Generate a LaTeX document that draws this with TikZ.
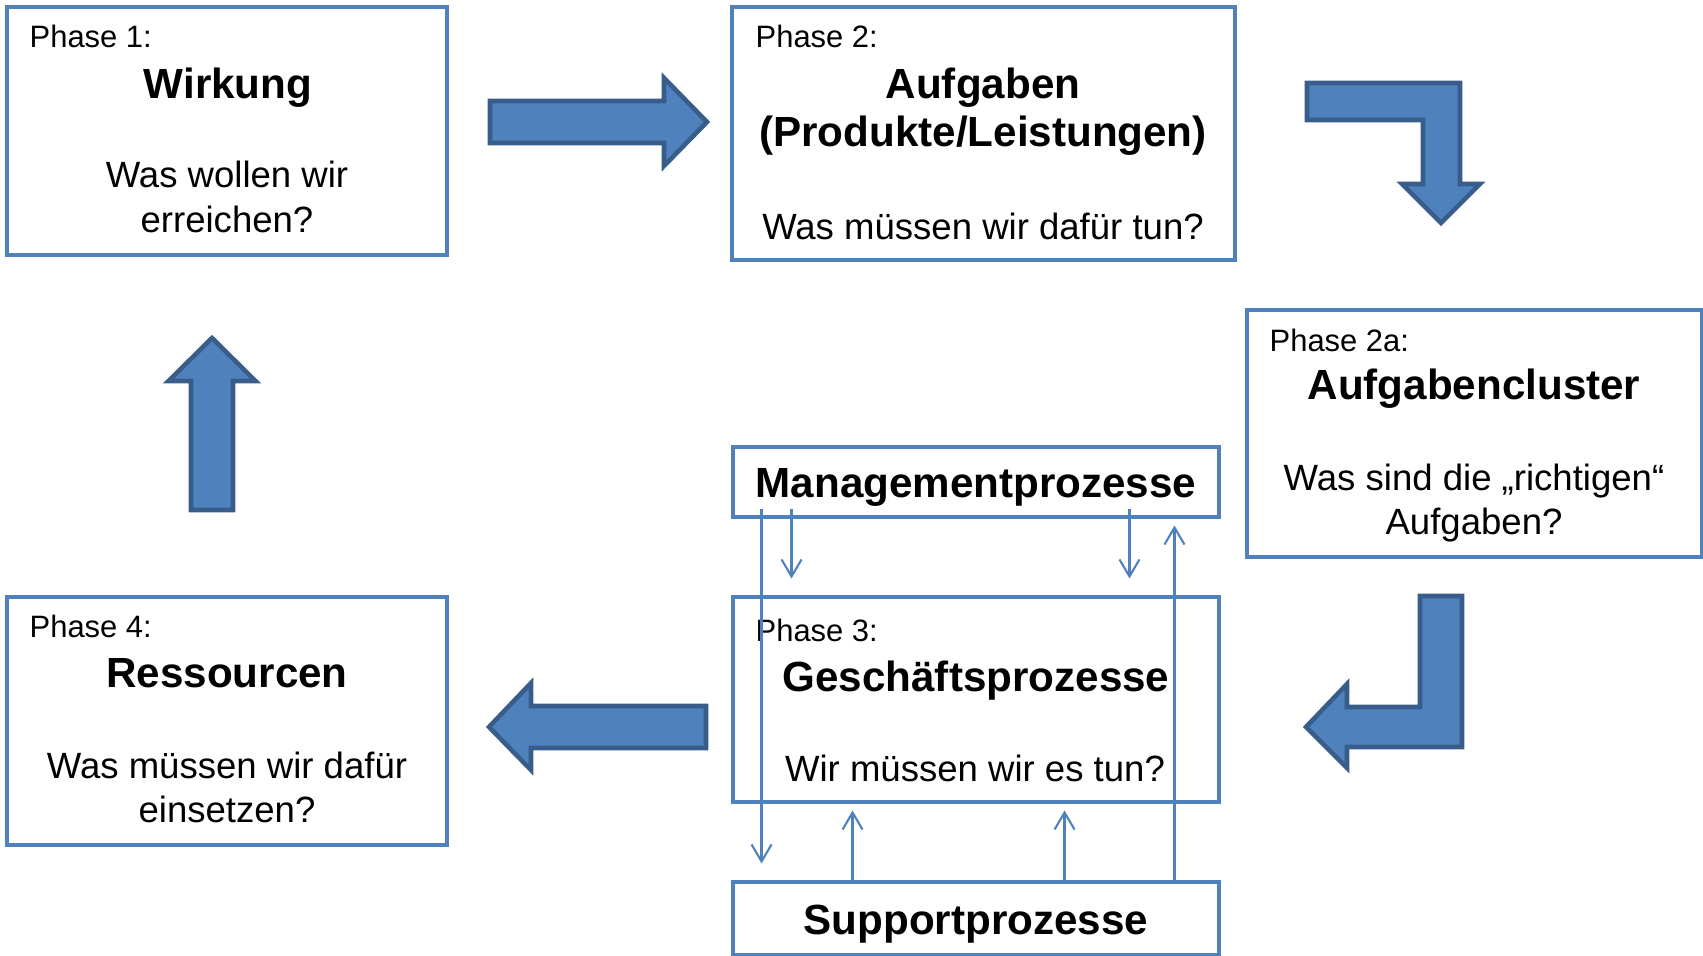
\documentclass[tikz,border=0pt]{standalone}
\usepackage{fontspec}
\setmainfont{Liberation Sans}
\definecolor{boxblue}{RGB}{79, 129, 189}
\definecolor{edgeblue}{RGB}{56, 93, 138}
\usetikzlibrary{arrows.meta, positioning, calc}

\begin{document}
\begin{tikzpicture}[
  pbox/.style={draw=boxblue, line width=1.4pt, fill=white, inner sep=0pt},
  phase/.style={anchor=base west, inner sep=0pt, font=\fontsize{8.8}{10.5}\selectfont},
  title/.style={anchor=base, inner sep=0pt, align=center, font=\fontsize{12}{13.9}\selectfont\bfseries},
  quest/.style={anchor=base, inner sep=0pt, align=center, font=\fontsize{10.4}{12.8}\selectfont},
  flow/.style={draw=boxblue, line width=0.6pt, -{Straight Barb[length=1.7mm, width=2mm]}},
  barrow/.style={fill=boxblue, draw=edgeblue, line width=1.3pt, line join=miter}
]
  \useasboundingbox (0,0) rectangle (17.03,9.56);

  \node[pbox, minimum width=4.40cm, minimum height=2.48cm] (p1) at (2.27, 8.25) {};
  \node[pbox, minimum width=5.03cm, minimum height=2.53cm] (p2) at (9.835, 8.225) {};
  \node[pbox, minimum width=4.55cm, minimum height=2.47cm] (p2a) at (14.745, 5.225) {};
  \node[pbox, minimum width=4.40cm, minimum height=2.48cm] (p4) at (2.27, 2.35) {};
  \node[pbox, minimum width=4.86cm, minimum height=0.70cm] (mgmt) at (9.76, 4.74) {};
  \node[pbox, minimum width=4.86cm, minimum height=2.05cm] (p3) at (9.76, 2.565) {};
  \node[pbox, minimum width=4.86cm, minimum height=0.73cm] (supp) at (9.76, 0.375) {};

  \node[phase] (p1l) at (0.29, 9.08) {Phase 1:};
  \node[title] (p1t) at (2.28, 8.57) {Wirkung};
  \node[quest] (p1q) at (2.27, 7.23) {Was wollen wir\\erreichen?};

  \node[phase] (p2l) at (7.55, 9.08) {Phase 2:};
  \node[title] (p2t) at (9.83, 8.09) {Aufgaben\\(Produkte/Leistungen)};
  \node[quest] (p2q) at (9.83, 7.16) {Was müssen wir dafür tun?};

  \node[phase] (p2al) at (12.69, 6.04) {Phase 2a:};
  \node[title] (p2at) at (14.74, 5.56) {Aufgabencluster};
  \node[quest] (p2aq) at (14.74, 4.21) {Was sind die „richtigen“\\Aufgaben?};

  \node[title] (mgmtt) at (9.76, 4.58) {Managementprozesse};

  \node[phase] (p3l) at (7.55, 3.14) {Phase 3:};
  \node[title] (p3t) at (9.76, 2.64) {Geschäftsprozesse};
  \node[quest] (p3q) at (9.75, 1.74) {Wir müssen wir es tun?};

  \node[title] (suppt) at (9.76, 0.21) {Supportprozesse};

  \node[phase] (p4l) at (0.29, 3.18) {Phase 4:};
  \node[title] (p4t) at (2.27, 2.68) {Ressourcen};
  \node[quest] (p4q) at (2.27, 1.33) {Was müssen wir dafür\\einsetzen?};

  \draw[flow] ($(mgmt.south west)+(0.31,0.10)$) -- ($(supp.north west)+(0.31,0.16)$);
  \draw[flow] ($(mgmt.south west)+(0.61,0.10)$) -- ($(p3.north west)+(0.61,0.16)$);
  \draw[flow] ($(mgmt.south east)+(-0.92,0.10)$) -- ($(p3.north east)+(-0.92,0.16)$);
  \draw[flow] ($(supp.north east)+(-0.47,0)$) -- ($(mgmt.south east)+(-0.47,-0.06)$);
  \draw[flow] ($(supp.north west)+(1.22,0)$) -- ($(p3.south west)+(1.22,-0.06)$);
  \draw[flow] ($(supp.north west)+(3.34,0)$) -- ($(p3.south west)+(3.34,-0.06)$);

  \draw[barrow] (4.90,8.55) -- (6.64,8.55) -- (6.64,8.78) -- (7.07,8.34) -- (6.64,7.90) -- (6.64,8.13) -- (4.90,8.13) -- cycle;
  \draw[barrow] (13.07,8.73) -- (14.60,8.73) -- (14.60,7.72) -- (14.80,7.72) -- (14.41,7.33) -- (14.02,7.72) -- (14.23,7.72) -- (14.23,8.36) -- (13.07,8.36) -- cycle;
  \draw[barrow] (14.20,3.60) -- (14.62,3.60) -- (14.62,2.09) -- (13.47,2.09) -- (13.47,1.88) -- (13.06,2.29) -- (13.47,2.72) -- (13.47,2.49) -- (14.20,2.49) -- cycle;
  \draw[barrow] (7.06,2.50) -- (5.31,2.50) -- (5.31,2.73) -- (4.89,2.29) -- (5.31,1.86) -- (5.31,2.08) -- (7.06,2.08) -- cycle;
  \draw[barrow] (1.91,4.46) -- (1.91,5.75) -- (1.685,5.75) -- (2.12,6.18) -- (2.555,5.75) -- (2.33,5.75) -- (2.33,4.46) -- cycle;
\end{tikzpicture}
\end{document}
